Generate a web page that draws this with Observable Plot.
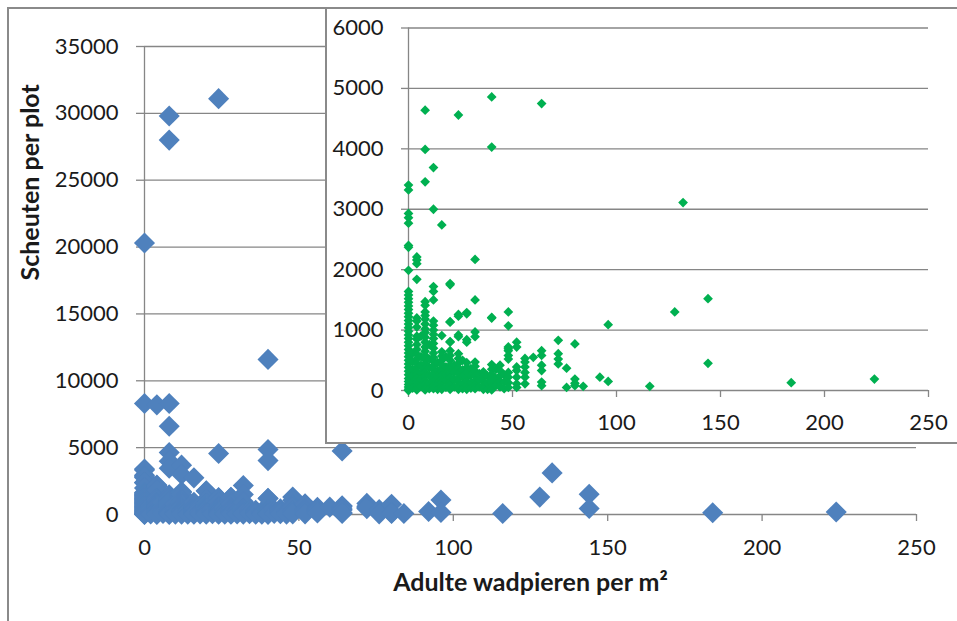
<!DOCTYPE html>
<html><head><meta charset="utf-8">
<script src="https://cdn.jsdelivr.net/npm/d3@7"></script>
<script src="https://cdn.jsdelivr.net/npm/@observablehq/plot@0.6"></script>
<style>
html,body{margin:0;padding:0;background:#fff;}
body{width:957px;height:621px;overflow:hidden;position:relative;font-family:Lato,"Open Sans",sans-serif;}
#frame{position:absolute;left:7px;top:7px;width:1000px;height:700px;border:2px solid #8a8a8a;box-sizing:border-box;}
#main{position:absolute;left:0;top:0;}
#inset{position:absolute;left:325px;top:7px;width:700px;height:437px;border:2px solid #8a8a8a;background:#fff;box-sizing:border-box;}
#inset svg, #main svg{display:block;}
</style></head><body>
<div id="frame"></div>
<div id="main"></div>
<div id="inset"></div>
<script>
// Adult lugworms per m² (x positions of the data columns)
const wadpierenColumns = [0, 2, 4, 6, 8, 10, 12, 14, 16, 18, 20, 22, 24, 26, 28, 30, 32, 34, 36, 38, 40, 42, 44, 46, 48, 52, 56, 60, 64, 72, 76, 80, 84, 92, 96, 116, 128, 132, 144, 184, 224];
// Shoots per plot, one list per column above
const scheutenColumns = [
  [20300, 8300, 3400, 3320, 2930, 2860, 2770, 2400, 2370, 1990, 1640, 1580, 1520, 1460, 1400, 1340, 1280, 1220, 1160, 1100, 1040, 980, 920, 860, 800, 740, 680, 620, 560, 500, 440, 380, 320, 260, 200, 150, 100, 60, 20, 0],
  [620, 480, 350, 240, 130, 40],
  [8200, 2210, 2160, 2100, 1840, 1200, 1150, 1050, 900, 850, 760, 680, 600, 520, 450, 380, 320, 260, 200, 140, 90, 40, 10],
  [900, 560, 420, 290, 180, 70],
  [29800, 28000, 8300, 6600, 4640, 3990, 3455, 1470, 1410, 1300, 1240, 1180, 1100, 1020, 960, 880, 800, 720, 650, 580, 510, 440, 370, 300, 230, 160, 100, 40, 10],
  [760, 520, 380, 250, 120, 30],
  [3690, 3000, 1720, 1640, 1500, 1150, 1080, 1000, 930, 860, 780, 700, 620, 550, 480, 410, 340, 270, 200, 140, 80, 30],
  [460, 330, 220, 110, 20],
  [2740, 910, 640, 570, 500, 430, 370, 310, 250, 190, 130, 70, 20],
  [560, 390, 270, 160, 50],
  [1770, 1750, 1140, 1130, 810, 800, 660, 580, 500, 420, 350, 280, 210, 140, 80, 20],
  [420, 300, 180, 60],
  [31100, 4560, 1260, 1230, 920, 890, 610, 530, 450, 370, 290, 210, 140, 70, 20],
  [500, 340, 230, 110, 30],
  [1290, 1270, 840, 800, 460, 380, 300, 220, 150, 80, 20],
  [360, 250, 130, 40],
  [2170, 1500, 970, 890, 470, 400, 320, 240, 160, 90, 30],
  [280, 170, 60],
  [310, 230, 150, 80, 20],
  [240, 120, 20],
  [11600, 4860, 4030, 1210, 1200, 430, 350, 270, 200, 130, 60, 10],
  [350, 200, 80],
  [420, 330, 240, 150, 60],
  [260, 140, 30],
  [1300, 1070, 720, 690, 660, 580, 520, 300, 220, 130, 50],
  [800, 720, 390, 330, 220, 110, 50],
  [530, 470, 390, 300, 220, 110],
  [550],
  [4750, 660, 580, 420, 330, 140, 80],
  [830, 610, 520, 440],
  [370, 50],
  [770, 190, 120, 80],
  [70],
  [220],
  [1090, 150],
  [70],
  [1300],
  [3110],
  [1520, 450],
  [130],
  [190]
];
const mainXTicks = [0, 50, 100, 150, 200, 250];
const mainYTicks = [0, 5000, 10000, 15000, 20000, 25000, 30000, 35000];
const insetXTicks = [0, 50, 100, 150, 200, 250];
const insetYTicks = [0, 1000, 2000, 3000, 4000, 5000, 6000];
const yTitle = "Scheuten per plot";
const xTitle = "Adulte wadpieren per m²";

const points = [];
wadpierenColumns.forEach((x, i) => scheutenColumns[i].forEach(y => points.push({x, y})));
const insetPoints = points.filter(d => d.y <= 6000);

const gridColor = "#868686";
const textColor = "#1a1a1a";
const fmt = d3.format("d");

const main = Plot.plot({
  width: 957, height: 621,
  marginLeft: 144, marginRight: 41, marginTop: 46, marginBottom: 107,
  style: {fontFamily: "Lato, 'Open Sans', sans-serif", background: "transparent", overflow: "visible"},
  x: {domain: [0, 250]},
  y: {domain: [0, 35000]},
  marks: [
    Plot.gridY({ticks: mainYTicks, stroke: gridColor, strokeOpacity: 1, strokeWidth: 1.3}),
    Plot.axisY({ticks: mainYTicks, tickSize: 8, tickPadding: 18, stroke: gridColor, strokeWidth: 1.3, fill: textColor, fontSize: 22, tickFormat: fmt, label: null}),
    Plot.axisX({ticks: mainXTicks, tickSize: 7, tickPadding: 18, stroke: gridColor, strokeWidth: 1.3, fill: textColor, fontSize: 22, tickFormat: fmt, label: null}),
    Plot.ruleX([0], {stroke: gridColor, strokeWidth: 1.3}),
    Plot.dot(points, {x: "x", y: "y", symbol: d3.symbolDiamond2, r: 9.5, fill: "#4f81bd", stroke: null}),
    Plot.text([yTitle], {text: d => d, frameAnchor: "left", dx: -114, rotate: -90, fontWeight: "bold", fontSize: 25, fill: textColor}),
    Plot.text([xTitle], {text: d => d, frameAnchor: "bottom", dy: 76, fontWeight: "bold", fontSize: 25, fill: textColor})
  ]
});
document.getElementById("main").appendChild(main);

const inset = Plot.plot({
  width: 630, height: 433,
  marginLeft: 81, marginRight: 29, marginTop: 18.5, marginBottom: 52,
  style: {fontFamily: "Lato, 'Open Sans', sans-serif", background: "transparent", overflow: "visible"},
  x: {domain: [0, 250]},
  y: {domain: [0, 6000]},
  marks: [
    Plot.gridY({ticks: insetYTicks, stroke: gridColor, strokeOpacity: 1, strokeWidth: 1.3}),
    Plot.axisY({ticks: insetYTicks, tickSize: 7, tickPadding: 18, stroke: gridColor, strokeWidth: 1.3, fill: textColor, fontSize: 22, tickFormat: fmt, label: null}),
    Plot.axisX({ticks: insetXTicks, tickSize: 7, tickPadding: 17, stroke: gridColor, strokeWidth: 1.3, fill: textColor, fontSize: 22, tickFormat: fmt, label: null}),
    Plot.ruleX([0], {stroke: gridColor, strokeWidth: 1.3}),
    Plot.dot(insetPoints, {x: "x", y: "y", symbol: d3.symbolDiamond2, r: 4.4, fill: "#00b050", stroke: null})
  ]
});
document.getElementById("inset").appendChild(inset);
</script>
</body></html>
